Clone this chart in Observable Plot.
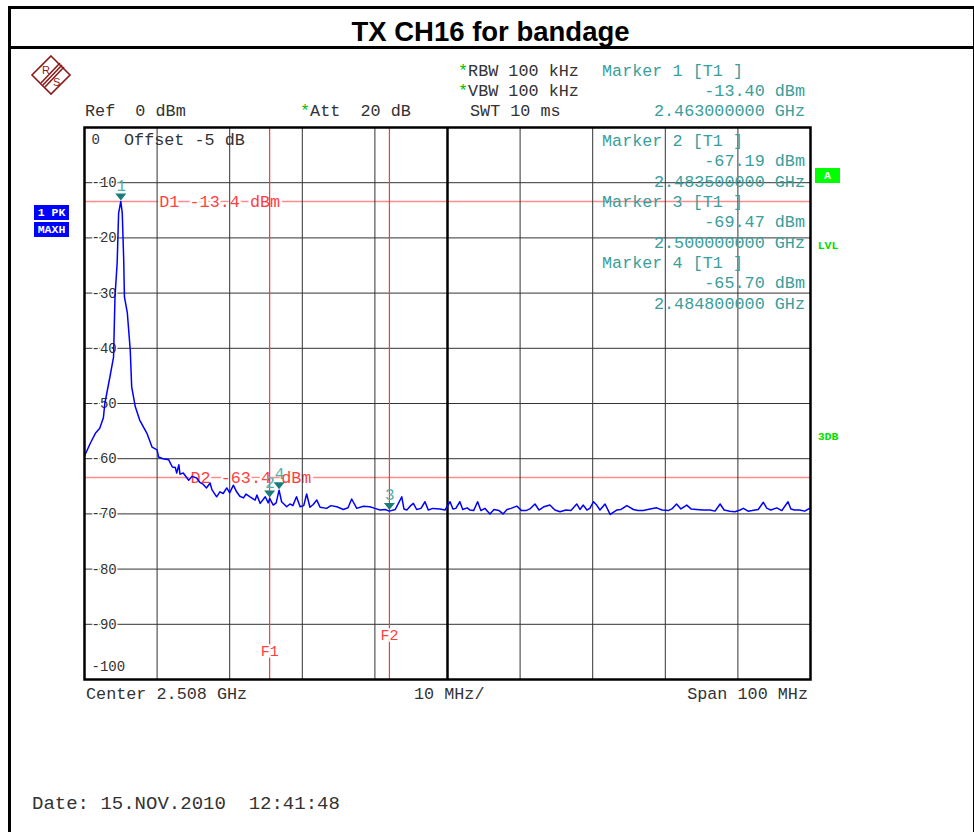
<!DOCTYPE html>
<html>
<head>
<meta charset="utf-8">
<script src="https://cdn.jsdelivr.net/npm/d3@7"></script>
<script src="https://cdn.jsdelivr.net/npm/@observablehq/plot@0.6"></script>
<style>
  html, body { margin: 0; padding: 0; background: #fff; }
  #page { position: relative; width: 974px; height: 832px; overflow: hidden; font-family: "Liberation Mono", "DejaVu Sans Mono", monospace; }
  .t { position: absolute; white-space: pre; font-size: 16.8px; line-height: 16px; color: #333; }
  .teal { color: #3a9e9b; }
  .grn { color: #00c000; }
  #title { position: absolute; left: 0; top: 13px; width: 981px; height: 38px; line-height: 38px; text-align: center;
           font-family: "Liberation Sans", Arial, sans-serif; font-weight: bold; font-size: 27.5px; color: #000; }
  .box { position: absolute; font-family: "Liberation Mono", monospace; font-weight: bold; font-size: 11.5px; text-align: center; line-height: 15px; }
  #chart { position: absolute; left: 0; top: 48px; }
</style>
</head>
<body>
<div id="page">
  <div style="position:absolute;left:8px;top:6px;width:962px;height:900px;border:3px solid #000;"></div>
  <div style="position:absolute;left:8px;top:46px;width:965px;height:3px;background:#000;"></div>
  <div id="title"></div>
  <div id="chart"></div>
</div>
<script>
// ---------- data ----------
const titleText = "TX CH16 for bandage";

// trace: frequency (MHz) and level (dBm)
const freqMHz = [
  2458.0, 2458.8, 2459.5, 2460.1, 2460.6, 2460.8, 2461.5, 2462.0, 2462.2, 2462.5,
  2462.7, 2463.0, 2463.2, 2463.4, 2463.5, 2463.9, 2464.3, 2464.5, 2465.0, 2465.6,
  2466.6, 2467.3, 2468.0, 2468.2, 2468.8, 2469.6, 2470.1, 2470.5, 2470.7, 2471.0,
  2471.15, 2471.6, 2472.35, 2472.8, 2473.45, 2473.9, 2474.3, 2474.8, 2475.3, 2475.55,
  2476.2, 2476.65, 2477.1, 2477.6, 2478.0, 2478.5, 2478.95, 2479.4, 2479.9, 2480.25,
  2480.8, 2481.5, 2481.75, 2482.2, 2482.9, 2483.3, 2483.5, 2484.0, 2484.4, 2484.8,
  2485.15, 2485.85, 2486.3, 2486.7, 2487.2, 2487.7, 2488.2, 2488.6, 2489.05, 2489.5,
  2490.0, 2490.45, 2491.35, 2491.95, 2492.75, 2493.65, 2494.3, 2494.8, 2495.5, 2496.4,
  2497.3, 2498.0, 2498.7, 2499.4, 2500.0, 2500.8, 2501.7, 2502.0, 2502.4, 2502.85,
  2503.3, 2503.75, 2504.35, 2504.9, 2505.35, 2506.0, 2506.95, 2507.65, 2508.35, 2508.75,
  2509.15, 2509.7, 2510.1, 2510.7, 2511.1, 2511.6, 2512.15, 2512.6, 2513.15, 2513.85,
  2514.4, 2515.1, 2515.65, 2516.2, 2516.75, 2517.55, 2518.2, 2518.8, 2519.35, 2520.05,
  2520.6, 2521.3, 2522.1, 2522.8, 2523.5, 2524.3, 2525.0, 2525.8, 2526.25, 2526.7,
  2527.2, 2527.6, 2528.1, 2528.55, 2529.0, 2529.7, 2530.4, 2531.3, 2531.9, 2532.7,
  2533.6, 2534.25, 2534.95, 2535.9, 2536.8, 2537.55, 2538.4, 2538.9, 2539.55, 2540.15,
  2540.95, 2541.55, 2542.3, 2543.2, 2544.15, 2544.85, 2545.55, 2546.1, 2546.9, 2547.6,
  2548.3, 2548.75, 2549.4, 2549.95, 2550.8, 2551.5, 2552.0, 2552.55, 2553.35, 2554.05,
  2554.9, 2555.3, 2555.8, 2556.5, 2557.2, 2558.0
];
const levelDbm = [
  -59.5, -57.2, -55.4, -54.5, -52.6, -50.0, -45.2, -41.6, -30.7, -24.5,
  -15.5, -13.4, -15.5, -24.0, -30.7, -33.6, -40.3, -47.0, -50.6, -53.0,
  -55.4, -57.9, -58.4, -59.7, -60.0, -60.2, -61.5, -61.6, -62.6, -61.1,
  -62.8, -62.6, -63.9, -63.2, -63.5, -64.3, -64.6, -65.3, -64.4, -65.6,
  -66.9, -66.0, -66.3, -65.3, -66.2, -64.8, -66.0, -66.8, -67.1, -66.4,
  -66.9, -67.5, -66.6, -68.1, -66.9, -68.0, -67.2, -68.4, -68.0, -65.7,
  -67.8, -68.7, -68.2, -68.5, -66.9, -68.7, -68.5, -66.4, -68.8, -68.3,
  -67.5, -68.8, -69.0, -68.5, -68.7, -69.2, -68.9, -67.3, -69.0, -68.6,
  -68.7, -69.0, -69.3, -69.2, -69.5, -69.2, -66.9, -69.1, -69.3, -68.6,
  -68.1, -69.2, -69.0, -67.8, -69.3, -69.0, -69.1, -69.3, -67.8, -69.1,
  -69.0, -67.8, -69.2, -68.9, -69.3, -69.4, -67.8, -69.4, -69.0, -70.0,
  -69.2, -69.4, -70.0, -69.2, -69.0, -68.6, -69.4, -69.4, -69.1, -68.2,
  -69.3, -68.7, -68.4, -69.3, -69.6, -69.3, -69.4, -68.2, -69.2, -68.4,
  -69.3, -69.0, -67.8, -68.4, -69.3, -68.2, -70.1, -69.3, -69.2, -68.5,
  -69.2, -69.4, -69.4, -69.1, -68.9, -69.3, -69.4, -69.1, -68.2, -69.1,
  -68.4, -69.1, -69.2, -69.3, -69.3, -69.5, -68.2, -69.3, -69.5, -69.6,
  -69.3, -69.0, -69.5, -69.4, -69.2, -67.9, -69.0, -69.3, -68.9, -69.4,
  -67.8, -69.1, -69.3, -69.3, -69.5, -68.9
];

const startMHz = 2458, stopMHz = 2558;
const gridFreqMHz = [2468, 2478, 2488, 2498, 2518, 2528, 2538, 2548];
const centerFreqMHz = [2508];
const gridLevels = [-10, -20, -30, -40, -50, -60, -70, -80, -90];
const levelTickLabels = ["-10", "-20", "-30", "-40", "-50", "-60", "-70", "-80", "-90"];
const topTickLabel = "0";
const bottomTickLabel = "-100";

const displayLineNames = ["D1", "D2"];
const displayLineLevels = [-13.4, -63.4];
const freqLineNames = ["F1", "F2"];
const freqLineMHz = [2483.5, 2500.0];

const markerIds = [1, 2, 3, 4];
const markerFreqMHz = [2463.0, 2483.5, 2500.0, 2484.8];
const markerLevels = [-13.40, -67.19, -69.47, -65.70];

const headerLeft = [["Ref  0 dBm", ""], ["Att  20 dB", "*"], ["SWT 10 ms", ""]];
const settingsLines = [["RBW 100 kHz", "*"], ["VBW 100 kHz", "*"]];
const offsetText = "Offset -5 dB";
const axisCenterText = "Center 2.508 GHz";
const axisDivText = "10 MHz/";
const axisSpanText = "Span 100 MHz";
const dateText = "Date: 15.NOV.2010  12:41:48";
const traceTags = ["1 PK", "MAXH"];
const sideTags = ["A", "LVL", "3DB"];

// ---------- build tables ----------
const trace = freqMHz.map((f, i) => ({ f, l: levelDbm[i] }));
const yTicks = gridLevels.map((v, i) => ({ v, label: levelTickLabels[i] }));
const dLines = displayLineNames.map((n, i) => ({ n, v: displayLineLevels[i], label: `${n} ${displayLineLevels[i].toFixed(1)} dBm` }));
const fLines = freqLineNames.map((n, i) => ({ n, f: freqLineMHz[i] }));
const markers = markerIds.map((id, i) => ({ id, f: markerFreqMHz[i], l: markerLevels[i] }));

const downTriangle = {
  draw(ctx) { ctx.moveTo(-5.5, -3.5); ctx.lineTo(5.5, -3.5); ctx.lineTo(0, 3.5); ctx.closePath(); }
};

const chart = Plot.plot({
  width: 974,
  height: 784,
  marginLeft: 84,
  marginRight: 164,
  marginTop: 79,
  marginBottom: 153,
  x: { domain: [startMHz, stopMHz], axis: null },
  y: { domain: [-100, 0], axis: null },
  style: { background: "transparent", fontFamily: "Liberation Mono, monospace", overflow: "visible" },
  marks: [
    // display lines
    Plot.ruleY(dLines, { y: "v", stroke: "#ff8c8c", strokeWidth: 1.6 }),
    Plot.text(dLines, { x: (d) => d.n === "D1" ? 2468.3 : 2472.6, y: "v", text: "label", textAnchor: "start",
      fill: "#ff4040", stroke: "white", strokeWidth: 5, fontSize: 16.8, lineAnchor: "middle" }),
    // grid
    Plot.ruleX(gridFreqMHz, { stroke: "#333", strokeWidth: 1 }),
    Plot.ruleY(gridLevels, { stroke: "#333", strokeWidth: 1 }),
    Plot.ruleX(centerFreqMHz, { stroke: "#000", strokeWidth: 2.5 }),
    // frequency lines
    Plot.ruleX(fLines, { x: "f", stroke: "#ff3838", strokeWidth: 1.2 }),
    Plot.text(fLines, { x: "f", y: (d) => d.n === "F1" ? -94.9 : -91.9, text: "n", fill: "#ff4040",
      stroke: "white", strokeWidth: 4, fontSize: 15, lineAnchor: "middle" }),
    // tick labels
    Plot.text(yTicks, { x: startMHz, y: "v", text: "label", textAnchor: "start", dx: 7, fill: "#333",
      stroke: "white", strokeWidth: 3, fontSize: 14, lineAnchor: "middle" }),
    Plot.text([topTickLabel], { x: startMHz, y: 0, text: (d) => d, textAnchor: "start", dx: 7, dy: 12, fill: "#333", fontSize: 14, lineAnchor: "middle" }),
    Plot.text([bottomTickLabel], { x: startMHz, y: -100, text: (d) => d, textAnchor: "start", dx: 7, dy: -13, fill: "#333", fontSize: 14, lineAnchor: "middle" }),
    // trace
    Plot.line(trace, { x: "f", y: "l", stroke: "#0000ff", strokeWidth: 1.5 }),
    // markers
    Plot.dot(markers, { x: "f", y: "l", symbol: downTriangle, r: 4, fill: "#1a7d7a", stroke: "none", dy: -4.5 }),
    Plot.text(markers, { x: "f", y: "l", text: (d) => String(d.id), dy: -16, dx: 0.5, fill: "#52b0ab", fontSize: 16, lineAnchor: "middle" }),
    Plot.frame({ stroke: "#000", strokeWidth: 2.5 })
  ]
});
document.getElementById("chart").appendChild(chart);

// ---------- annotations (HTML) ----------
const page = document.getElementById("page");
document.getElementById("title").textContent = titleText;
function addText(html, opts) {
  const d = document.createElement("div");
  d.className = "t" + (opts.cls ? " " + opts.cls : "");
  d.innerHTML = html;
  d.style.top = (opts.y - 6) + "px";
  if (opts.right != null) { d.style.right = (974 - opts.right) + "px"; d.style.textAlign = "right"; }
  else d.style.left = opts.x + "px";
  if (opts.size) { d.style.fontSize = opts.size + "px"; d.style.lineHeight = opts.size + "px"; d.style.top = (opts.y - opts.size / 2 + 1) + "px"; }
  page.appendChild(d);
  return d;
}
const star = (s) => s ? `<span class="grn">${s}</span>` : "";
// settings
addText(star(settingsLines[0][1]) + settingsLines[0][0], { x: 458, y: 70 });
addText(star(settingsLines[1][1]) + settingsLines[1][0], { x: 458, y: 90 });
addText(star(headerLeft[0][1]) + headerLeft[0][0], { x: 85, y: 110 });
addText(star(headerLeft[1][1]) + headerLeft[1][0], { x: 300, y: 110 });
addText(star(headerLeft[2][1]) + headerLeft[2][0], { x: 470, y: 110 });
// marker readouts
markers.forEach((m, i) => {
  const base = i === 0 ? 70 : 140 + (i - 1) * 61;
  const step = i === 0 ? 20 : 20.3;
  addText(`Marker ${m.id} [T1 ]`, { x: 602, y: base, cls: "teal" });
  addText(`${m.l.toFixed(2)} dBm`, { right: 805, y: base + step, cls: "teal" });
  addText(`${(m.f / 1000).toFixed(9)} GHz`, { right: 805, y: base + 2 * step, cls: "teal" });
});
addText(offsetText, { x: 124, y: 139 });
addText(axisCenterText, { x: 86, y: 693 });
addText(axisDivText, { x: 414, y: 693 });
addText(axisSpanText, { right: 808, y: 693 });
addText(dateText, { x: 32, y: 803, size: 19 });

// trace tags (blue) and side tags (green)
function addBox(txt, x, y, w, h, bg, fg) {
  const d = document.createElement("div");
  d.className = "box";
  Object.assign(d.style, { left: x + "px", top: y + "px", width: w + "px", height: h + "px", lineHeight: h + "px",
    background: bg, color: fg });
  d.textContent = txt;
  page.appendChild(d);
}
addBox(traceTags[0], 34, 205, 35, 15, "#0000ff", "#fff");
addBox(traceTags[1], 34, 222, 35, 15, "#0000ff", "#fff");
addBox(sideTags[0], 815, 168, 25, 15, "#00ff00", "#fff");
addBox(sideTags[1], 814, 238, 28, 15, "transparent", "#00e000");
addBox(sideTags[2], 814, 429, 28, 15, "transparent", "#00e000");

// R&S logo
const logo = document.createElementNS("http://www.w3.org/2000/svg", "svg");
logo.setAttribute("width", "44"); logo.setAttribute("height", "44");
logo.style.position = "absolute"; logo.style.left = "29px"; logo.style.top = "53px";
logo.innerHTML = `
  <g stroke="#8b1a1a" fill="none" stroke-width="1.6">
    <path d="M22 3 L41 22 L22 41 L3 22 Z"/>
    <path d="M31 10 L12 30"/><path d="M33 12 L14 32"/><path d="M35 14 L16 34"/>
  </g>
  <text x="13" y="21" font-family="Liberation Sans, sans-serif" font-size="11" fill="#8b1a1a">R</text>
  <text x="24" y="33" font-family="Liberation Sans, sans-serif" font-size="11" fill="#8b1a1a">S</text>`;
page.appendChild(logo);
</script>
</body>
</html>
